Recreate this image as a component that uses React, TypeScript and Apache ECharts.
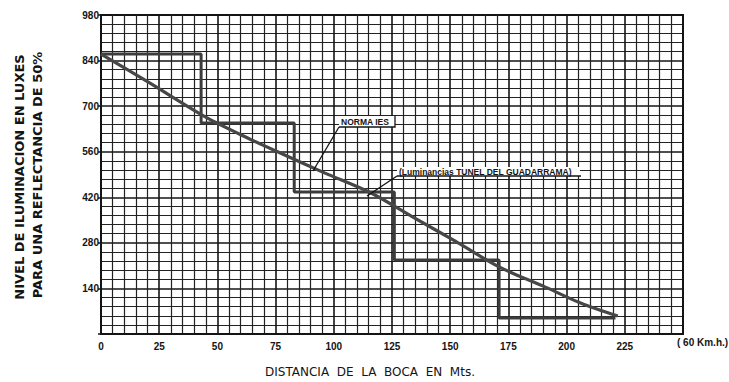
import React, { useEffect, useRef } from "react";
import * as echarts from "echarts";

// Axis tick labels
const xTicks = [0, 25, 50, 75, 100, 125, 150, 175, 200, 225];
const yTicks = [140, 280, 420, 560, 700, 840, 980];

// "Luminancias TUNEL DEL GUADARRAMA" step profile: breakpoints (m) and levels (lux)
const stepBreaks = [0, 43, 83, 126, 171, 221];
const stepLevels = [860, 648, 436, 227, 49];

// "NORMA IES" curve
const curveX = [0, 20, 45, 63, 77, 96, 116, 134, 152, 171, 190, 206, 222];
const curveY = [860, 775, 666, 602, 556, 495, 433, 359, 286, 206, 147, 95, 55];

const INK = "#141414";

export default function App() {
  const ref = useRef<HTMLDivElement>(null);

  useEffect(() => {
    if (!ref.current) return;
    const chart = echarts.init(ref.current, undefined, { renderer: "svg" });

    const stepData: number[][] = [];
    stepLevels.forEach((lv, i) => {
      stepData.push([stepBreaks[i], lv]);
      stepData.push([stepBreaks[i + 1], lv]);
    });
    const curveData = curveX.map((x, i) => [x, curveY[i]]);

    chart.setOption({
      animation: false,
      backgroundColor: "#ffffff",
      grid: {
        left: 101,
        top: 15,
        width: 582,
        height: 319,
        show: true,
        borderColor: INK,
        borderWidth: 2,
        backgroundColor: "transparent",
      },
      xAxis: {
        type: "value",
        min: 0,
        max: 250,
        interval: 25,
        axisLine: { show: true, lineStyle: { color: INK, width: 2 } },
        axisTick: { show: false },
        axisLabel: {
          margin: 7,
          color: INK,
          fontSize: 10,
          fontWeight: "bold",
          fontFamily: "Liberation Sans",
          formatter: (v: number) => (xTicks.includes(v) ? String(v) : ""),
        },
        splitLine: { show: true, lineStyle: { color: INK, width: 1.6 } },
        minorTick: { show: false, splitNumber: 5 },
        minorSplitLine: { show: true, lineStyle: { color: "#222222", width: 1.2 } },
      },
      yAxis: {
        type: "value",
        min: 0,
        max: 980,
        interval: 140,
        axisLine: { show: true, lineStyle: { color: INK, width: 2 } },
        axisTick: { show: true, length: 3, lineStyle: { color: INK, width: 1.5 } },
        axisLabel: {
          margin: 2,
          color: INK,
          fontSize: 10,
          fontWeight: "bold",
          fontFamily: "Liberation Sans",
          formatter: (v: number) => (yTicks.includes(v) ? String(v) : ""),
        },
        splitLine: { show: true, lineStyle: { color: INK, width: 1.6 } },
        minorTick: { show: false, splitNumber: 5 },
        minorSplitLine: { show: true, lineStyle: { color: "#222222", width: 1.2 } },
      },
      series: [
        {
          name: "Luminancias TUNEL DEL GUADARRAMA",
          type: "line",
          data: stepData,
          showSymbol: false,
          lineStyle: { color: "#3c3c3c", width: 3 },
          z: 3,
        },
        {
          name: "NORMA IES",
          type: "line",
          data: curveData,
          smooth: 0.3,
          showSymbol: false,
          lineStyle: { color: "#474747", width: 3.2 },
          z: 4,
        },
      ],
      graphic: [
        {
          type: "text",
          left: 265,
          top: 366,
          style: {
            text: "DISTANCIA  DE  LA  BOCA  EN  Mts.",
            fontSize: 12,
            fontFamily: "DejaVu Sans",
            fill: INK,
          },
        },
        {
          type: "text",
          x: 19,
          y: 177,
          rotation: Math.PI / 2,
          style: {
            text: "NIVEL DE ILUMINACION EN LUXES",
            fontSize: 13,
            fontWeight: "bold",
            fontFamily: "DejaVu Sans",
            fill: INK,
            align: "center",
            verticalAlign: "middle",
          },
        },
        {
          type: "text",
          x: 37,
          y: 175,
          rotation: Math.PI / 2,
          style: {
            text: "PARA UNA REFLECTANCIA DE 50%",
            fontSize: 13,
            fontWeight: "bold",
            fontFamily: "DejaVu Sans",
            fill: INK,
            align: "center",
            verticalAlign: "middle",
          },
        },
        {
          type: "text",
          x: 677,
          y: 342,
          style: {
            text: "( 60 Km.h.)",
            fontSize: 10,
            fontFamily: "Liberation Sans",
            fontWeight: "bold",
            fill: INK,
            verticalAlign: "middle",
          },
        },
        // NORMA IES annotation
        {
          type: "rect",
          shape: { x: 339, y: 116, width: 56, height: 11 },
          style: { fill: "#ffffff", stroke: null },
          z: 10,
        },
        {
          type: "polyline",
          shape: { points: [[339, 127], [395, 127], [395, 116]] },
          style: { stroke: INK, lineWidth: 1.3, fill: null },
          z: 10,
        },
        {
          type: "text",
          x: 341,
          y: 122,
          style: {
            text: "NORMA IES",
            fontSize: 8.5,
            fontFamily: "Liberation Sans",
            fontWeight: "bold",
            fill: INK,
            verticalAlign: "middle",
          },
          z: 11,
        },
        {
          type: "line",
          shape: { x1: 339, y1: 127, x2: 313, y2: 171 },
          style: { stroke: INK, lineWidth: 1.3 },
          z: 10,
        },
        // Guadarrama annotation
        {
          type: "rect",
          shape: { x: 397, y: 167, width: 183, height: 9 },
          style: { fill: "#ffffff", stroke: null },
          z: 10,
        },
        {
          type: "line",
          shape: { x1: 397, y1: 176, x2: 581, y2: 176 },
          style: { stroke: INK, lineWidth: 1.3 },
          z: 10,
        },
        {
          type: "text",
          x: 399,
          y: 172,
          style: {
            text: "(Luminancias TUNEL DEL GUADARRAMA)",
            fontSize: 8.5,
            fontFamily: "Liberation Sans",
            fontWeight: "bold",
            fill: INK,
            verticalAlign: "middle",
          },
          z: 11,
        },
        {
          type: "line",
          shape: { x1: 397, y1: 176, x2: 367, y2: 196 },
          style: { stroke: INK, lineWidth: 1.3 },
          z: 10,
        },
      ],
    });

    return () => chart.dispose();
  }, []);

  return (
    <div
      ref={ref}
      style={{ position: "fixed", left: 0, top: 0, width: 729, height: 382 }}
    />
  );
}
